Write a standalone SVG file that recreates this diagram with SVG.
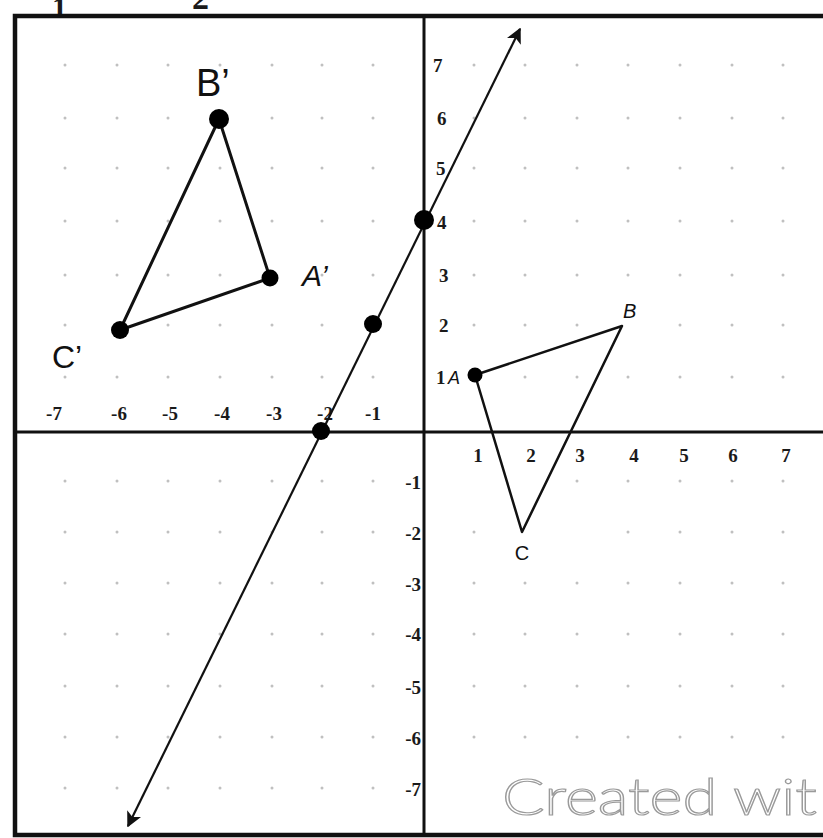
<svg xmlns="http://www.w3.org/2000/svg" width="823" height="838" viewBox="0 0 823 838">
<defs>
<style>
.num{font-family:"Liberation Serif",serif;font-weight:bold;font-size:19px;fill:#1a1a1a}
.lbl{font-family:"Liberation Sans",sans-serif;fill:#111}
.dot{fill:#c0c0c0}
.pt{fill:#000}
.tri{fill:none;stroke:#111;stroke-width:3;stroke-linejoin:round}
.axis{stroke:#111;stroke-width:3;fill:none}
</style>
<marker id="arr" viewBox="0 0 10 10" refX="9" refY="5" markerWidth="7" markerHeight="7" orient="auto-start-reverse" markerUnits="strokeWidth">
<path d="M0,0 L10,5 L0,10 L2.5,5 Z" fill="#111"/>
</marker>
</defs>
<rect width="823" height="838" fill="#fff"/>
<g id="cropped-top">
<text class="num" x="52" y="17" style="font-size:30px">1</text>
<text class="num" x="192" y="9" style="font-size:34px">2</text>
</g>
<g id="grid-dots">
<g class="dot">
<circle cx="65" cy="65" r="1.5"/><circle cx="117" cy="65" r="1.5"/><circle cx="168" cy="65" r="1.5"/><circle cx="220" cy="65" r="1.5"/><circle cx="272" cy="65" r="1.5"/><circle cx="322" cy="65" r="1.5"/><circle cx="373" cy="65" r="1.5"/><circle cx="474" cy="65" r="1.5"/><circle cx="525" cy="65" r="1.5"/><circle cx="577" cy="65" r="1.5"/><circle cx="628" cy="65" r="1.5"/><circle cx="680" cy="65" r="1.5"/><circle cx="732" cy="65" r="1.5"/><circle cx="783" cy="65" r="1.5"/>
<circle cx="65" cy="118" r="1.5"/><circle cx="117" cy="118" r="1.5"/><circle cx="168" cy="118" r="1.5"/><circle cx="272" cy="118" r="1.5"/><circle cx="322" cy="118" r="1.5"/><circle cx="373" cy="118" r="1.5"/><circle cx="474" cy="118" r="1.5"/><circle cx="525" cy="118" r="1.5"/><circle cx="577" cy="118" r="1.5"/><circle cx="628" cy="118" r="1.5"/><circle cx="680" cy="118" r="1.5"/><circle cx="732" cy="118" r="1.5"/><circle cx="783" cy="118" r="1.5"/>
<circle cx="65" cy="168" r="1.5"/><circle cx="117" cy="168" r="1.5"/><circle cx="168" cy="168" r="1.5"/><circle cx="220" cy="168" r="1.5"/><circle cx="272" cy="168" r="1.5"/><circle cx="322" cy="168" r="1.5"/><circle cx="373" cy="168" r="1.5"/><circle cx="474" cy="168" r="1.5"/><circle cx="525" cy="168" r="1.5"/><circle cx="577" cy="168" r="1.5"/><circle cx="628" cy="168" r="1.5"/><circle cx="680" cy="168" r="1.5"/><circle cx="732" cy="168" r="1.5"/><circle cx="783" cy="168" r="1.5"/>
<circle cx="65" cy="221" r="1.5"/><circle cx="117" cy="221" r="1.5"/><circle cx="168" cy="221" r="1.5"/><circle cx="220" cy="221" r="1.5"/><circle cx="272" cy="221" r="1.5"/><circle cx="322" cy="221" r="1.5"/><circle cx="373" cy="221" r="1.5"/><circle cx="474" cy="221" r="1.5"/><circle cx="525" cy="221" r="1.5"/><circle cx="577" cy="221" r="1.5"/><circle cx="628" cy="221" r="1.5"/><circle cx="680" cy="221" r="1.5"/><circle cx="732" cy="221" r="1.5"/><circle cx="783" cy="221" r="1.5"/>
<circle cx="65" cy="275" r="1.5"/><circle cx="117" cy="275" r="1.5"/><circle cx="168" cy="275" r="1.5"/><circle cx="220" cy="275" r="1.5"/><circle cx="322" cy="275" r="1.5"/><circle cx="373" cy="275" r="1.5"/><circle cx="474" cy="275" r="1.5"/><circle cx="525" cy="275" r="1.5"/><circle cx="577" cy="275" r="1.5"/><circle cx="628" cy="275" r="1.5"/><circle cx="680" cy="275" r="1.5"/><circle cx="732" cy="275" r="1.5"/><circle cx="783" cy="275" r="1.5"/>
<circle cx="65" cy="325" r="1.5"/><circle cx="168" cy="325" r="1.5"/><circle cx="220" cy="325" r="1.5"/><circle cx="272" cy="325" r="1.5"/><circle cx="322" cy="325" r="1.5"/><circle cx="474" cy="325" r="1.5"/><circle cx="525" cy="325" r="1.5"/><circle cx="577" cy="325" r="1.5"/><circle cx="680" cy="325" r="1.5"/><circle cx="732" cy="325" r="1.5"/><circle cx="783" cy="325" r="1.5"/>
<circle cx="65" cy="377" r="1.5"/><circle cx="117" cy="377" r="1.5"/><circle cx="168" cy="377" r="1.5"/><circle cx="220" cy="377" r="1.5"/><circle cx="272" cy="377" r="1.5"/><circle cx="322" cy="377" r="1.5"/><circle cx="373" cy="377" r="1.5"/><circle cx="525" cy="377" r="1.5"/><circle cx="577" cy="377" r="1.5"/><circle cx="628" cy="377" r="1.5"/><circle cx="680" cy="377" r="1.5"/><circle cx="732" cy="377" r="1.5"/><circle cx="783" cy="377" r="1.5"/>
<circle cx="65" cy="481" r="1.5"/><circle cx="117" cy="481" r="1.5"/><circle cx="168" cy="481" r="1.5"/><circle cx="220" cy="481" r="1.5"/><circle cx="272" cy="481" r="1.5"/><circle cx="322" cy="481" r="1.5"/><circle cx="373" cy="481" r="1.5"/><circle cx="577" cy="481" r="1.5"/><circle cx="628" cy="481" r="1.5"/><circle cx="680" cy="481" r="1.5"/><circle cx="732" cy="481" r="1.5"/><circle cx="783" cy="481" r="1.5"/>
<circle cx="65" cy="532" r="1.5"/><circle cx="117" cy="532" r="1.5"/><circle cx="168" cy="532" r="1.5"/><circle cx="220" cy="532" r="1.5"/><circle cx="272" cy="532" r="1.5"/><circle cx="322" cy="532" r="1.5"/><circle cx="373" cy="532" r="1.5"/><circle cx="474" cy="532" r="1.5"/><circle cx="628" cy="532" r="1.5"/><circle cx="680" cy="532" r="1.5"/><circle cx="732" cy="532" r="1.5"/><circle cx="783" cy="532" r="1.5"/>
<circle cx="65" cy="583" r="1.5"/><circle cx="117" cy="583" r="1.5"/><circle cx="168" cy="583" r="1.5"/><circle cx="220" cy="583" r="1.5"/><circle cx="272" cy="583" r="1.5"/><circle cx="322" cy="583" r="1.5"/><circle cx="373" cy="583" r="1.5"/><circle cx="474" cy="583" r="1.5"/><circle cx="525" cy="583" r="1.5"/><circle cx="577" cy="583" r="1.5"/><circle cx="628" cy="583" r="1.5"/><circle cx="680" cy="583" r="1.5"/><circle cx="732" cy="583" r="1.5"/><circle cx="783" cy="583" r="1.5"/>
<circle cx="65" cy="634" r="1.5"/><circle cx="117" cy="634" r="1.5"/><circle cx="168" cy="634" r="1.5"/><circle cx="220" cy="634" r="1.5"/><circle cx="272" cy="634" r="1.5"/><circle cx="322" cy="634" r="1.5"/><circle cx="373" cy="634" r="1.5"/><circle cx="474" cy="634" r="1.5"/><circle cx="525" cy="634" r="1.5"/><circle cx="577" cy="634" r="1.5"/><circle cx="628" cy="634" r="1.5"/><circle cx="680" cy="634" r="1.5"/><circle cx="732" cy="634" r="1.5"/><circle cx="783" cy="634" r="1.5"/>
<circle cx="65" cy="686" r="1.5"/><circle cx="117" cy="686" r="1.5"/><circle cx="168" cy="686" r="1.5"/><circle cx="220" cy="686" r="1.5"/><circle cx="272" cy="686" r="1.5"/><circle cx="322" cy="686" r="1.5"/><circle cx="373" cy="686" r="1.5"/><circle cx="474" cy="686" r="1.5"/><circle cx="525" cy="686" r="1.5"/><circle cx="577" cy="686" r="1.5"/><circle cx="628" cy="686" r="1.5"/><circle cx="680" cy="686" r="1.5"/><circle cx="732" cy="686" r="1.5"/><circle cx="783" cy="686" r="1.5"/>
<circle cx="65" cy="737" r="1.5"/><circle cx="117" cy="737" r="1.5"/><circle cx="168" cy="737" r="1.5"/><circle cx="220" cy="737" r="1.5"/><circle cx="272" cy="737" r="1.5"/><circle cx="322" cy="737" r="1.5"/><circle cx="373" cy="737" r="1.5"/><circle cx="474" cy="737" r="1.5"/><circle cx="525" cy="737" r="1.5"/><circle cx="577" cy="737" r="1.5"/><circle cx="628" cy="737" r="1.5"/><circle cx="680" cy="737" r="1.5"/><circle cx="732" cy="737" r="1.5"/><circle cx="783" cy="737" r="1.5"/>
<circle cx="65" cy="788" r="1.5"/><circle cx="117" cy="788" r="1.5"/><circle cx="168" cy="788" r="1.5"/><circle cx="220" cy="788" r="1.5"/><circle cx="272" cy="788" r="1.5"/><circle cx="322" cy="788" r="1.5"/><circle cx="373" cy="788" r="1.5"/>
</g>
</g>
<g id="frame">
<path d="M826,16 L15,16 L15,835 L826,835" fill="none" stroke="#111" stroke-width="4.5"/>
</g>
<g id="axes">
<line class="axis" x1="15" y1="432" x2="823" y2="432"/>
<line class="axis" x1="424" y1="16" x2="424" y2="835"/>
</g>
<g id="axis-labels">
<g class="num" text-anchor="middle">
<text x="54" y="420">-7</text><text x="119" y="420">-6</text><text x="170" y="420">-5</text><text x="222" y="420">-4</text><text x="274" y="420">-3</text><text x="325" y="420">-2</text><text x="373" y="420">-1</text>
<text x="478" y="462">1</text><text x="531" y="462">2</text><text x="580" y="462">3</text><text x="634" y="462">4</text><text x="684" y="462">5</text><text x="733" y="462">6</text><text x="786" y="462">7</text>
</g>
<g class="num">
<text x="433" y="72">7</text><text x="437" y="125">6</text><text x="436" y="175">5</text><text x="437" y="229">4</text><text x="439" y="282">3</text><text x="439" y="332">2</text><text x="436" y="384">1</text>
</g>
<g class="num" text-anchor="end">
<text x="421" y="489">-1</text><text x="421" y="540">-2</text><text x="421" y="591">-3</text><text x="421" y="641">-4</text><text x="421" y="694">-5</text><text x="421" y="745">-6</text><text x="421" y="796">-7</text>
</g>
</g>
<g id="connectors">
<line x1="128" y1="826" x2="520" y2="29" stroke="#111" stroke-width="2.2" marker-start="url(#arr)" marker-end="url(#arr)"/>
</g>
<g id="line-points">
<circle class="pt" cx="321" cy="431" r="9"/>
<circle class="pt" cx="373" cy="324" r="9"/>
<circle class="pt" cx="424" cy="220" r="10"/>
</g>
<g id="triangle-image">
<polygon class="tri" points="219,119 270,278 120,330"/>
<circle class="pt" cx="219" cy="119" r="10"/>
<circle class="pt" cx="270" cy="278" r="8.5"/>
<circle class="pt" cx="120" cy="330" r="9"/>
<text class="lbl" x="196" y="96" style="font-size:38px">B’</text>
<text class="lbl" x="302" y="286" style="font-size:30px;font-style:italic">A’</text>
<text class="lbl" x="52" y="368" style="font-size:32px">C’</text>
</g>
<g id="triangle-original">
<polygon class="tri" points="475,375 622,326 522,532" style="stroke-width:2.5"/>
<circle class="pt" cx="475" cy="375" r="7.5"/>
<text class="lbl" x="448" y="384" style="font-size:18px;font-style:italic">A</text>
<text class="lbl" x="623" y="318" style="font-size:20px;font-style:italic">B</text>
<text class="lbl" x="522" y="560" text-anchor="middle" style="font-size:20px">C</text>
</g>
<g id="watermark">
<text x="502" y="815" textLength="315" lengthAdjust="spacingAndGlyphs" style="font-family:Lato,'Liberation Sans',sans-serif;font-weight:300;font-size:52px;fill:#fff;stroke:#9a9a9a;stroke-width:1.2">Created wit</text>
</g>
</svg>
